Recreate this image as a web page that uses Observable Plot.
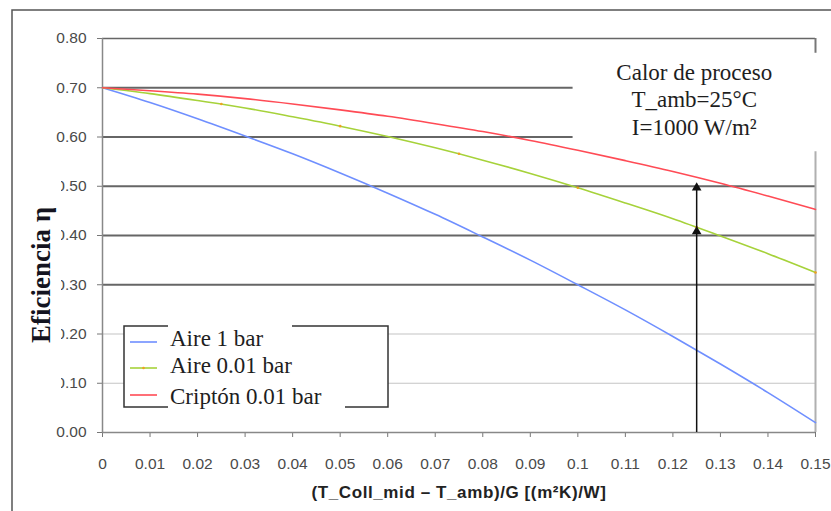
<!DOCTYPE html>
<html><head><meta charset="utf-8">
<script src="https://cdn.jsdelivr.net/npm/d3@7"></script>
<script src="https://cdn.jsdelivr.net/npm/@observablehq/plot@0.6"></script>
<style>body{margin:0;background:#fff;} svg{display:block;}</style>
</head><body><div id="chart"></div>
<script>
// x values (T_Coll_mid - T_amb)/G
const xValues = [0, 0.01, 0.02, 0.03, 0.04, 0.05, 0.06, 0.07, 0.08, 0.09, 0.10, 0.11, 0.12, 0.13, 0.14, 0.15];
// Series
const aire1bar   = [0.700, 0.670, 0.637, 0.602, 0.566, 0.527, 0.486, 0.443, 0.397, 0.350, 0.300, 0.249, 0.195, 0.139, 0.081, 0.020];
const aire001bar = [0.700, 0.688, 0.674, 0.659, 0.641, 0.622, 0.601, 0.578, 0.553, 0.526, 0.497, 0.466, 0.434, 0.399, 0.363, 0.325];
const cripton001 = [0.700, 0.694, 0.687, 0.678, 0.667, 0.655, 0.642, 0.627, 0.611, 0.593, 0.573, 0.552, 0.530, 0.506, 0.480, 0.453];
// small markers on the "Aire 0.01 bar" curve
const markerX = [0.025, 0.05, 0.075, 0.10, 0.125, 0.15];
const markerY = [0.667, 0.622, 0.566, 0.497, 0.417, 0.325];
// reading arrow at x = 0.125
const arrowX = 0.125;
const arrowTop = 0.50;
const arrowHeadsY = [0.497, 0.408];

const seriesNames = ["Aire 1 bar", "Aire 0.01 bar", "Criptón 0.01 bar"];
const seriesColors = ["#6f8fff", "#a6d23a", "#ff4b55"];
const seriesValues = [aire1bar, aire001bar, cripton001];

const xTicks = [0, 0.01, 0.02, 0.03, 0.04, 0.05, 0.06, 0.07, 0.08, 0.09, 0.1, 0.11, 0.12, 0.13, 0.14, 0.15];
const yTicks = [0, 0.1, 0.2, 0.3, 0.4, 0.5, 0.6, 0.7, 0.8];
const gridLight = [0.1, 0.2];
const gridDark = [0.3, 0.4, 0.5];
const gridShort = [0.6, 0.7];
const gridShortEnd = 0.099;

const annotation = "Calor de proceso\nT_amb=25°C\nI=1000 W/m²";
const xTitle = "(T_Coll_mid – T_amb)/G [(m²K)/W]";
const yTitle = "Eficiencia η";

const rows = seriesNames.flatMap((name, i) => xValues.map((x, j) => ({series: name, x, y: seriesValues[i][j]})));
const markers = markerX.map((x, i) => ({x, y: markerY[i]}));

const serif = "'Liberation Serif', 'DejaVu Serif', serif";
const sans = "'Liberation Sans', Arial, sans-serif";

const plot = Plot.plot({
  width: 831, height: 511,
  marginLeft: 102, marginRight: 16, marginTop: 38, marginBottom: 79,
  style: {fontFamily: sans, background: "transparent", overflow: "visible"},
  x: {domain: [0, 0.15]},
  y: {domain: [0, 0.8]},
  color: {domain: seriesNames, range: seriesColors},
  marks: [
    Plot.ruleY(gridLight, {stroke: "#c4c4c4", strokeWidth: 1.2}),
    Plot.ruleY(gridDark, {stroke: "#666", strokeWidth: 2}),
    Plot.ruleY(gridShort, {x1: 0, x2: gridShortEnd, stroke: "#666", strokeWidth: 2}),
    Plot.ruleY([0.8], {stroke: "#666", strokeWidth: 1.5}),
    Plot.ruleX([0.15], {y1: 0, y2: 0.57, stroke: "#b0b0b0", strokeWidth: 2}),
    Plot.ruleX([0.15], {y1: 0.77, y2: 0.8, stroke: "#777", strokeWidth: 2}),
    Plot.axisX({ticks: xTicks, tickFormat: d => String(+d.toFixed(2)), tickSize: 5, tickPadding: 20,
      fontSize: 15.5, color: "#4a4a4a", stroke: "#777", label: null}),
    Plot.axisY({ticks: yTicks, tickFormat: d3.format(".2f"), tickSize: 5, tickPadding: 11,
      fontSize: 15.5, color: "#4a4a4a", stroke: "#777", label: null}),
    Plot.ruleX([0], {stroke: "#888", strokeWidth: 1.5}),
    Plot.ruleY([0], {stroke: "#888", strokeWidth: 1.5}),
    Plot.line(rows, {x: "x", y: "y", z: "series", stroke: "series", strokeWidth: 1.6, curve: "monotone-x"}),
    Plot.dot(markers, {x: "x", y: "y", r: 1.3, fill: "#f0a020"}),
    Plot.ruleX([arrowX], {y1: 0, y2: arrowTop, stroke: "#111", strokeWidth: 1.5}),
    Plot.dot(arrowHeadsY, {x: () => arrowX, y: d => d, symbol: "triangle", r: 3.6, fill: "#111", stroke: null}),
    Plot.text([annotation], {x: () => 0.1245, y: () => 0.756, lineAnchor: "top", lineHeight: 1.2,
      fontSize: 23, fontFamily: serif, fill: "#1e1e1e", textAnchor: "middle"})
  ]
});

document.getElementById("chart").appendChild(plot);

const svg = d3.select(plot);
// x axis title
svg.append("text").text(xTitle)
  .attr("x", 459).attr("y", 498).attr("text-anchor", "middle")
  .attr("font-family", sans).attr("font-weight", "bold").attr("font-size", 17)
  .attr("letter-spacing", "0.6px").attr("fill", "#222");
// outer figure frame
svg.append("path").attr("d", "M12,520 L12,10 L840,10").attr("fill", "none").attr("stroke", "#555").attr("stroke-width", 1.5);
// cover behind y title (clips tick labels as in the reference)
svg.append("rect").attr("x", 22).attr("y", 172).attr("width", 39).attr("height", 222).attr("fill", "#fff");
svg.append("text").text(yTitle)
  .attr("transform", "translate(50,275) rotate(-90)")
  .attr("text-anchor", "middle")
  .attr("font-family", serif).attr("font-weight", "bold").attr("font-size", 27).attr("fill", "#141420");

// legend
const lg = svg.append("g").attr("text-anchor", "start");
lg.append("rect").attr("x", 124).attr("y", 326).attr("width", 264).attr("height", 81)
  .attr("fill", "#fff").attr("stroke", "#333").attr("stroke-width", 1.5);
lg.append("rect").attr("x", 168).attr("y", 323).attr("width", 124).attr("height", 6).attr("fill", "#fff");
lg.append("rect").attr("x", 168).attr("y", 404).attr("width", 177).attr("height", 6).attr("fill", "#fff");
const lineYs = [342, 368, 395];
const baseYs = [346, 373, 404];
seriesNames.forEach((name, i) => {
  lg.append("line").attr("x1", 130).attr("x2", 157).attr("y1", lineYs[i]).attr("y2", lineYs[i])
    .attr("stroke", seriesColors[i]).attr("stroke-width", 1.6);
  if (i === 1) lg.append("circle").attr("cx", 143.5).attr("cy", lineYs[i]).attr("r", 1.3).attr("fill", "#f0a020");
  lg.append("text").text(name).attr("x", 170).attr("y", baseYs[i]).attr("text-anchor", "start")
    .attr("font-family", serif).attr("font-size", 23).attr("fill", "#1e1e1e");
});
</script>
</body></html>
